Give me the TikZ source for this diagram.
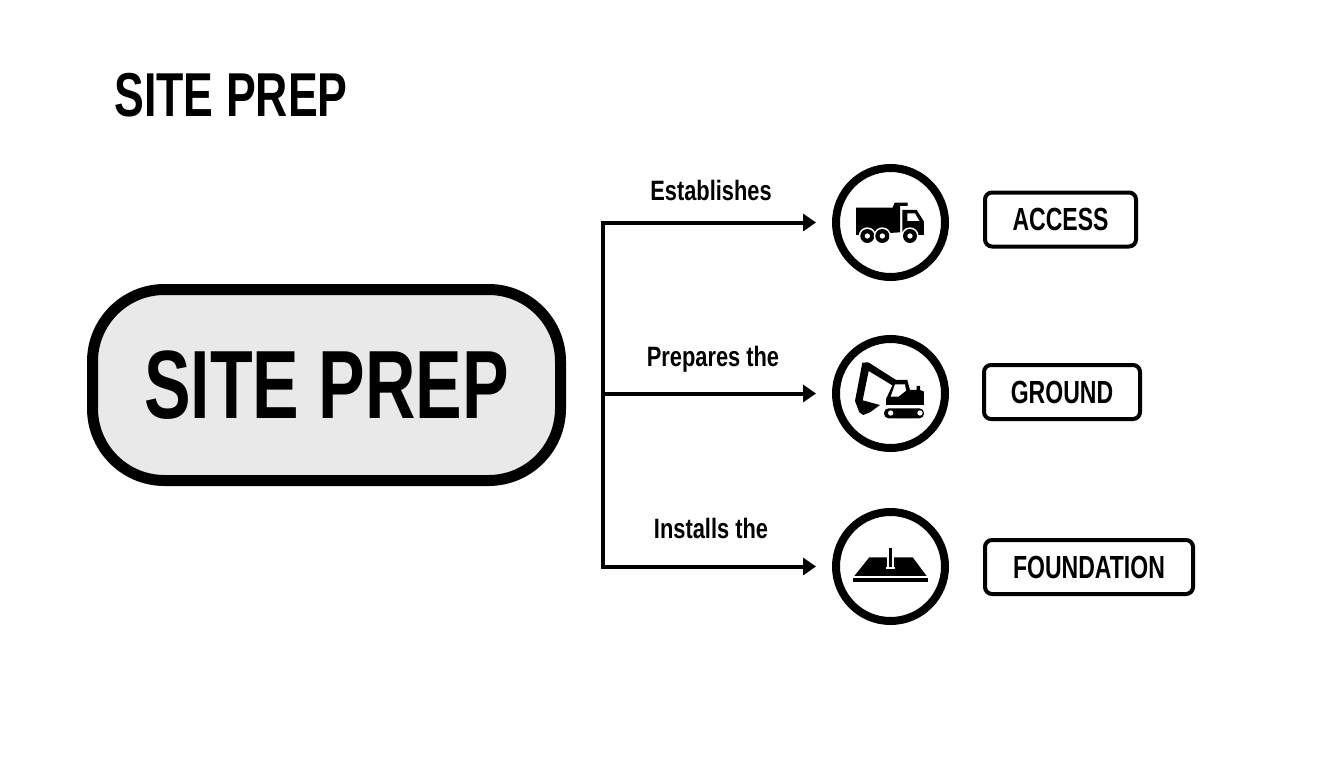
\documentclass[tikz,border=0pt]{standalone}
\usepackage{fontspec}
\usepackage{xcolor}
\usetikzlibrary{
    arrows.meta,
    positioning
}
\setmainfont[FakeStretch=0.72]{Liberation Sans}
\newfontfamily\verbfont[FakeStretch=0.78]{Liberation Sans}
\definecolor{hubgrey}{HTML}{E9E9E9}
\tikzset{
    hubbox/.style={draw, line width=11pt, rounded corners=72pt, fill=hubgrey, minimum width=468pt, minimum height=191pt, inner sep=0pt, font=\fontsize{97}{97}\selectfont\bfseries},
    ring/.style={draw, circle, line width=8pt, minimum size=109pt, inner sep=0pt},
    tagbox/.style={draw, line width=4pt, rounded corners=7pt, minimum height=54pt, inner sep=0pt, font=\fontsize{32}{32}\selectfont\bfseries},
    verb/.style={inner sep=0pt, font=\verbfont\fontsize{28}{28}\selectfont\bfseries},
    flow/.style={line width=4pt, shorten >=16pt, -{Triangle[length=13pt, width=17pt]}}
}
\begin{document}
\begin{tikzpicture}[x=1pt, y=-1pt]
                        \useasboundingbox (0, 0) rectangle (1344, 768);

                        \node[inner sep=0pt, font=\fontsize{62}{62}\selectfont\bfseries] (title) at (231, 95) {SITE PREP};
                        \node[hubbox] (hub) at (326.5, 385) {SITE PREP};

                        \coordinate (fork) at (602.5, 393.5);
                        \node[ring] (truck) at (890.5, 222.5) {};
                        \node[ring] (digger) at (890.5, 393.5) {};
                        \node[ring] (slab) at (890.5, 566.5) {};

                        \node[tagbox, minimum width=151pt] (access) at (1060.5, 219.5) {ACCESS};
                        \node[tagbox, minimum width=156pt] (ground) at (1062, 392) {GROUND};
                        \node[tagbox, minimum width=208pt] (foundation) at (1089, 567) {FOUNDATION};

                        \node[verb] (establishes) at (711, 190) {Establishes};
                        \node[verb] (prepares) at (713, 359) {Prepares the};
                        \node[verb] (installs) at (711, 528) {Installs the};

                        \draw[flow] (fork) |- (truck);
                        \draw[flow] (fork) -- (digger);
                        \draw[flow] (fork) |- (slab);

                        % icons, in units of a third of a pixel
                        \begin{scope}[shift={(820, 155)}, x=0.3333pt, y=-0.3333pt]
                            \fill (108, 158) -- (218, 158) -- (224, 143) -- (263, 143) -- (263, 153) -- (240, 153) -- (240, 232) -- (108, 240) -- cycle;
                            \fill (247, 165) -- (290, 165) -- (312, 200) -- (312, 240) -- (247, 240) -- cycle;
                            \fill[white] (262, 175) -- (285, 175) -- (298, 198) -- (262, 198) -- cycle;
                            \foreach \wheelx in {142, 187, 270} {
                                \fill[white] (\wheelx, 243) circle (26);
                                \fill (\wheelx, 243) circle (21);
                                \fill[white] (\wheelx, 243) circle (8);
                            }
                        \end{scope}

                        \begin{scope}[shift={(820, 325)}, x=0.3333pt, y=-0.3333pt]
                            \fill (127, 113) -- (145, 112) -- (230, 166) -- (222, 184) -- (146, 138) -- (128, 226) -- (180, 240) -- (150, 262) -- (130, 270) -- (118, 262) -- (105, 228) -- cycle;
                            \fill (225, 165) -- (262, 165) -- (270, 195) -- (290, 195) -- (290, 183) -- (300, 183) -- (300, 195) -- (312, 200) -- (312, 240) -- (198, 240) -- (198, 222) -- cycle;
                            \fill[white] (225, 178) -- (255, 178) -- (258, 197) -- (235, 215) -- (212, 215) -- cycle;
                            \fill[rounded corners=4.6pt] (192, 250) rectangle (312, 280);
                            \foreach \wheelx in {212, 300} {
                                \fill[white] (\wheelx, 264) circle (8);
                            }
                        \end{scope}

                        \begin{scope}[shift={(820, 500)}, x=0.3333pt, y=-0.3333pt]
                            \fill (103, 228) -- (148, 172) -- (278, 172) -- (320, 228) -- cycle;
                            \fill (100, 235) rectangle (323, 246);
                            \fill[white] (202, 172) rectangle (222, 200);
                            \fill[white] (197, 200) rectangle (226, 208);
                            \fill (207, 145) rectangle (217, 201);
                        \end{scope}
                    \end{tikzpicture}
\end{document}
